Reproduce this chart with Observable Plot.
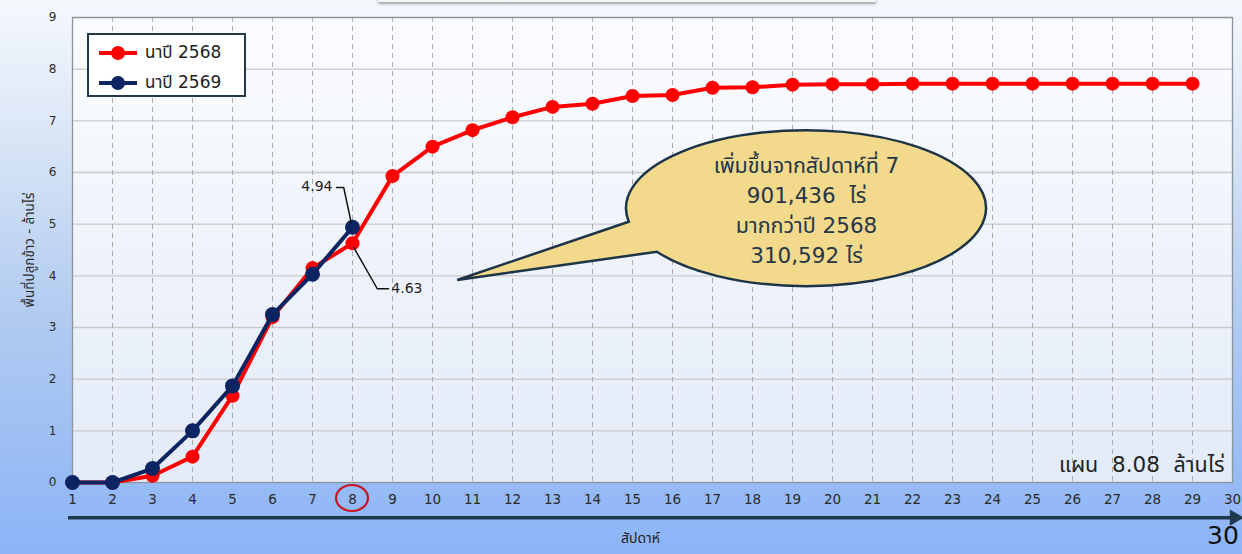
<!DOCTYPE html>
<html>
<head>
<meta charset="utf-8">
<script src="https://cdn.jsdelivr.net/npm/d3@7"></script>
<script src="https://cdn.jsdelivr.net/npm/@observablehq/plot@0.6"></script>
<style>
  html, body { margin: 0; padding: 0; }
  body {
    width: 1242px; height: 554px; overflow: hidden; position: relative;
    background: linear-gradient(to bottom, #f5f8fd 0%, #dde8f7 22%, #b3ccf0 55%, #8cb4f7 100%);
    font-family: Tahoma, "DejaVu Sans", "Noto Sans Thai", "Noto Sans", sans-serif;
  }
  #chart { position: absolute; left: 0; top: 0; }
  #titlebar { position: absolute; left: 378px; top: -6px; width: 498px; height: 8px; background: #f7f7f7; box-shadow: 0 2px 3px rgba(0,0,0,0.35); }
  #legend { position: absolute; left: 87px; top: 33px; width: 155px; height: 60px; background: #fff; border: 2px solid #23384a; }
  .lg { position: absolute; left: 10px; height: 20px; display: flex; align-items: center; font-size: 17px; color: #222; }
  .lg svg { margin-right: 8px; }
  #page { position: absolute; left: 1207px; top: 521px; font-size: 25px; color: #111; font-family: "DejaVu Sans", sans-serif; }
</style>
</head>
<body>
<div id="titlebar"></div>
<div id="chart"></div>
<div id="legend"></div>
<div id="page">30</div>
<script>
// ---- data ----
const weeks2568 = [1,2,3,4,5,6,7,8,9,10,11,12,13,14,15,16,17,18,19,20,21,22,23,24,25,26,27,28,29];
const area2568  = [0,0,0.13,0.5,1.68,3.2,4.15,4.63,5.93,6.5,6.82,7.07,7.27,7.33,7.48,7.5,7.64,7.65,7.7,7.71,7.71,7.72,7.72,7.72,7.72,7.72,7.72,7.72,7.72];
const weeks2569 = [1,2,3,4,5,6,7,8];
const area2569  = [0,0,0.27,1.0,1.87,3.25,4.03,4.94];
const xTicks = [1,2,3,4,5,6,7,8,9,10,11,12,13,14,15,16,17,18,19,20,21,22,23,24,25,26,27,28,29,30];
const yTicks = [0,1,2,3,4,5,6,7,8,9];
const seriesNames = ["นาปี 2568", "นาปี 2569"];
const seriesColors = ["#ff0000", "#0d2463"];
const calloutLines = ["เพิ่มขึ้นจากสัปดาห์ที่ 7", "901,436  ไร่", "มากกว่าปี 2568", "310,592 ไร่"];
const planText = "แผน  8.08  ล้านไร่";
const xTitle = "สัปดาห์";
const yTitle = "พื้นที่ปลูกข้าว - ล้านไร่";
const highlightWeek = 8;

const d2568 = weeks2568.map((w, i) => ({week: w, area: area2568[i]}));
const d2569 = weeks2569.map((w, i) => ({week: w, area: area2569[i]}));
const last2569 = d2569[d2569.length - 1];
const same2568 = d2568.find(d => d.week === last2569.week);

const FONT = 'Tahoma, "DejaVu Sans", "Noto Sans Thai", "Noto Sans", sans-serif';

// callout bubble + highlight ring as a render-function mark
function callout(index, scales, values, dimensions, context) {
  const g = d3.create("svg:g");
  const cx = scales.x(19.35), cy = scales.y(5.30), rx = 180, ry = 78;
  const tx = scales.x(10.63), ty = scales.y(3.91);
  const p = a => [cx + rx * Math.cos(a * Math.PI / 180), cy + ry * Math.sin(a * Math.PI / 180)];
  const b1 = p(170), b2 = p(146);
  g.append("path")
    .attr("d", `M${b1[0]},${b1[1]} L${tx},${ty} L${b2[0]},${b2[1]} A${rx},${ry} 0 1 0 ${b1[0]},${b1[1]} Z`)
    .attr("fill", "#f2d98b").attr("stroke", "#1d3347").attr("stroke-width", 2.5);
  // ring around week 8 tick label
  g.append("ellipse")
    .attr("cx", scales.x(highlightWeek)).attr("cy", scales.y(0) + 16)
    .attr("rx", 16).attr("ry", 13)
    .attr("fill", "none").attr("stroke", "#c8141e").attr("stroke-width", 2.2);
  return g.node();
}

const chart = Plot.plot({
  width: 1242,
  height: 554,
  marginLeft: 72,
  marginRight: 10,
  marginTop: 17,
  marginBottom: 72,
  style: { background: "transparent", fontFamily: FONT, color: "#333" },
  x: { domain: [1, 30] },
  y: { domain: [0, 9] },
  marks: [
    Plot.rect([0], { x1: 1, x2: 30, y1: 0, y2: 9, fill: "url(#plotbg)" }),
    Plot.ruleY(yTicks.slice(1), { stroke: "#c9c9c9", strokeWidth: 1.3 }),
    Plot.ruleX(xTicks.slice(1, -1), { stroke: "#ababab", strokeWidth: 1, strokeDasharray: "5,4" }),
    Plot.frame({ stroke: "#8c949c", strokeWidth: 1.3 }),
    Plot.axisX({ ticks: xTicks, tickSize: 0, tickPadding: 12, fontSize: 13.5, label: null, fill: "#2a2a2a" }),
    Plot.axisY({ ticks: yTicks, tickSize: 0, tickPadding: 16, fontSize: 12, fill: "#2a2a2a",
      label: yTitle, labelAnchor: "center", labelArrow: "none", labelOffset: 48, fontSize: 12 }),
    Plot.text([xTitle], { x: 15.2, y: -1.08, text: d => d, fontSize: 14, fill: "#222" }),
    Plot.ruleY([-0.68], { x1: 0.9, x2: 30.0, stroke: "#1f3a4d", strokeWidth: 3.5 }),
    Plot.dot([30.05], { x: d => d, y: -0.68, symbol: "triangle", rotate: 90, r: 6, fill: "#1f3a4d" }),
    Plot.line(d2568, { x: "week", y: "area", stroke: seriesColors[0], strokeWidth: 4 }),
    Plot.dot(d2568, { x: "week", y: "area", fill: seriesColors[0], r: 7 }),
    Plot.line(d2569, { x: "week", y: "area", stroke: seriesColors[1], strokeWidth: 4 }),
    Plot.dot(d2569, { x: "week", y: "area", fill: seriesColors[1], r: 7.5 }),
    // value labels with leader lines
    Plot.line([[7.6, 5.71], [7.78, 5.71], [7.97, 5.02]], { stroke: "#111", strokeWidth: 1.5 }),
    Plot.text([last2569], { x: 7.5, y: 5.72, text: d => d.area.toFixed(2), textAnchor: "end", fontSize: 14, fill: "#222" }),
    Plot.line([[8.03, 4.55], [8.62, 3.75], [8.9, 3.75]], { stroke: "#111", strokeWidth: 1.5 }),
    Plot.text([same2568], { x: 8.97, y: 3.76, text: d => d.area.toFixed(2), textAnchor: "start", fontSize: 14, fill: "#222" }),
    callout,
    Plot.text([calloutLines.join("\n")], { x: 19.35, y: 5.31, text: d => d, fontSize: 21.5, lineHeight: 1.4, fill: "#243647" }),
    Plot.text([planText], { x: 29.8, y: 0.33, text: d => d, textAnchor: "end", fontSize: 21.5, fill: "#222" })
  ]
});

d3.select(chart).insert("defs", ":first-child").html(`
  <linearGradient id="plotbg" x1="0" y1="0" x2="0" y2="1">
    <stop offset="0%" stop-color="#fbfcfe"/>
    <stop offset="100%" stop-color="#e3ebf8"/>
  </linearGradient>`);
// enlarge y-axis title a bit
d3.select(chart).selectAll("[aria-label='y-axis label'] text").attr("font-size", 13.5);
document.getElementById("chart").appendChild(chart);

// legend
const legend = document.getElementById("legend");
seriesNames.forEach((name, i) => {
  const row = document.createElement("div");
  row.className = "lg";
  row.style.top = (8 + i * 30) + "px";
  row.innerHTML = `<svg width="38" height="16"><line x1="0" y1="8" x2="38" y2="8" stroke="${seriesColors[i]}" stroke-width="4"/><circle cx="19" cy="8" r="7" fill="${seriesColors[i]}"/></svg>${name}`;
  legend.appendChild(row);
});
</script>
</body>
</html>
